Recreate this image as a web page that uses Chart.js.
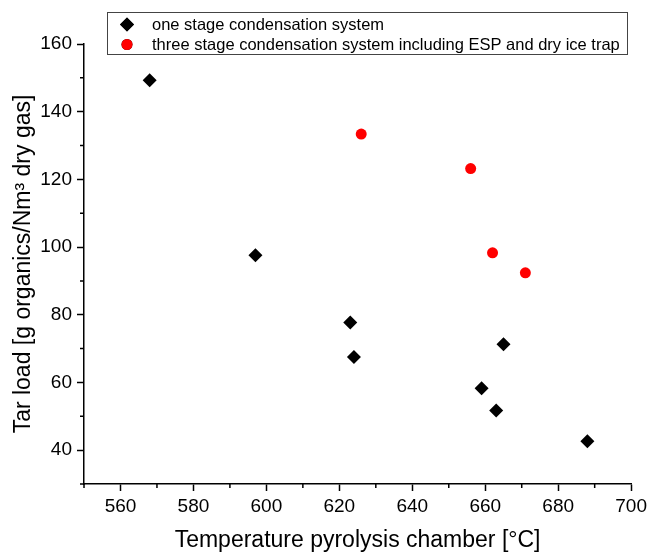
<!DOCTYPE html>
<html>
<head>
<meta charset="utf-8">
<script src="https://cdn.jsdelivr.net/npm/chart.js@4"></script>
<style>
  body { margin: 0; background: #fff; }
  #wrap { width: 651px; height: 554px; }
</style>
</head>
<body>
<div id="wrap"><canvas id="chart1" width="651" height="554"></canvas></div>
<script>
// one stage condensation system
var oneStageTemp = [568, 597, 623, 624, 665, 659, 663, 688];
var oneStageTar = [149.3, 97.6, 77.7, 67.5, 71.3, 58.3, 51.7, 42.6];

// three stage condensation system incl. ESP and dry ice trap
var threeStageTemp = [626, 656, 662, 671];
var threeStageTar = [133.4, 123.2, 98.3, 92.4];

var seriesLabels = ['one stage condensation system', 'three stage condensation system including ESP and dry ice trap'];

var FONT = 'Liberation Sans, Arial, sans-serif';

function toPoints(xs, ys) {
    return xs.map(function (x, i) { return { x: x, y: ys[i] }; });
}

// short minor ticks (Chart.js has no minor ticks) + boxed legend
var extras = {
    id: 'extras',
    afterDraw: function (chart) {
        var ctx = chart.ctx;
        var xs = chart.scales.x, ys = chart.scales.y;
        var area = chart.chartArea;
        ctx.save();
        ctx.strokeStyle = '#000';
        ctx.lineWidth = 1.5;
        ctx.beginPath();
        for (var v = 550; v <= 700; v += 10) {
            if (v % 20 !== 0) {
                var px = xs.getPixelForValue(v);
                ctx.moveTo(px, area.bottom);
                ctx.lineTo(px, area.bottom + 4);
            }
        }
        for (var w = 30; w <= 160; w += 10) {
            if (w % 20 !== 0) {
                var py = ys.getPixelForValue(w);
                ctx.moveTo(area.left - 4, py);
                ctx.lineTo(area.left, py);
            }
        }
        ctx.stroke();

        // legend
        ctx.lineWidth = 1;
        ctx.strokeStyle = '#444';
        ctx.strokeRect(107.5, 12.5, 520, 42);
        ctx.font = '16.5px ' + FONT;
        ctx.fillStyle = '#000';
        ctx.textBaseline = 'middle';
        chart.data.datasets.forEach(function (ds, i) {
            var yy = 24.5 + i * 20;
            Chart.helpers.drawPoint(ctx, {
                pointStyle: ds.pointStyle,
                radius: ds.pointRadius,
                borderWidth: 0
            }, 127, yy);
            ctx.fillStyle = ds.backgroundColor;
            ctx.fill();
            ctx.fillStyle = '#000';
            ctx.fillText(ds.label, 152, yy + 1);
        });
        ctx.restore();
    }
};

var ctx = document.getElementById('chart1').getContext('2d');
var myChart = new Chart(ctx, {
    type: 'scatter',
    data: {
        datasets: [{
            label: seriesLabels[0],
            data: toPoints(oneStageTemp, oneStageTar),
            pointStyle: 'rectRot',
            pointRadius: 7,
            backgroundColor: '#000000',
            borderColor: '#000000',
            borderWidth: 0
        }, {
            label: seriesLabels[1],
            data: toPoints(threeStageTemp, threeStageTar),
            pointStyle: 'circle',
            pointRadius: 5.5,
            backgroundColor: '#ff0000',
            borderColor: '#ff0000',
            borderWidth: 0
        }]
    },
    options: {
        responsive: false,
        animation: false,
        layout: { padding: { top: 44, right: 16, left: 0, bottom: 0 } },
        plugins: {
            legend: { display: false },
            tooltip: { enabled: false }
        },
        scales: {
            x: {
                type: 'linear',
                min: 550,
                max: 700,
                afterFit: function (scale) { scale.height = 70; },
                border: { color: '#000', width: 1.5 },
                grid: {
                    drawOnChartArea: false,
                    tickLength: 7,
                    tickWidth: 1.5,
                    tickColor: function (c) {
                        return c.tick && c.tick.value % 20 === 0 ? '#000' : 'rgba(0,0,0,0)';
                    }
                },
                ticks: {
                    stepSize: 10,
                    autoSkip: false,
                    maxRotation: 0,
                    padding: 4,
                    color: '#000',
                    font: { family: FONT, size: 19 },
                    callback: function (value) {
                        return value % 20 === 0 ? value : '';
                    }
                },
                title: {
                    display: true,
                    text: 'Temperature pyrolysis chamber [°C]',
                    color: '#000',
                    font: { family: FONT, size: 23 },
                    padding: { top: 0, bottom: 0 }
                }
            },
            y: {
                type: 'linear',
                min: 30,
                max: 160,
                afterFit: function (scale) { scale.width = 84; },
                border: { color: '#000', width: 1.5 },
                grid: {
                    drawOnChartArea: false,
                    tickLength: 7,
                    tickWidth: 1.5,
                    tickColor: function (c) {
                        return c.tick && c.tick.value % 20 === 0 ? '#000' : 'rgba(0,0,0,0)';
                    }
                },
                ticks: {
                    stepSize: 10,
                    autoSkip: false,
                    padding: 5,
                    color: '#000',
                    font: { family: FONT, size: 19 },
                    callback: function (value) {
                        return value % 20 === 0 ? value : '';
                    }
                },
                title: {
                    display: true,
                    text: 'Tar load [g organics/Nm³ dry gas]',
                    color: '#000',
                    font: { family: FONT, size: 23 },
                    padding: { top: 10, bottom: 0 }
                }
            }
        }
    },
    plugins: [extras]
});
</script>
</body>
</html>
